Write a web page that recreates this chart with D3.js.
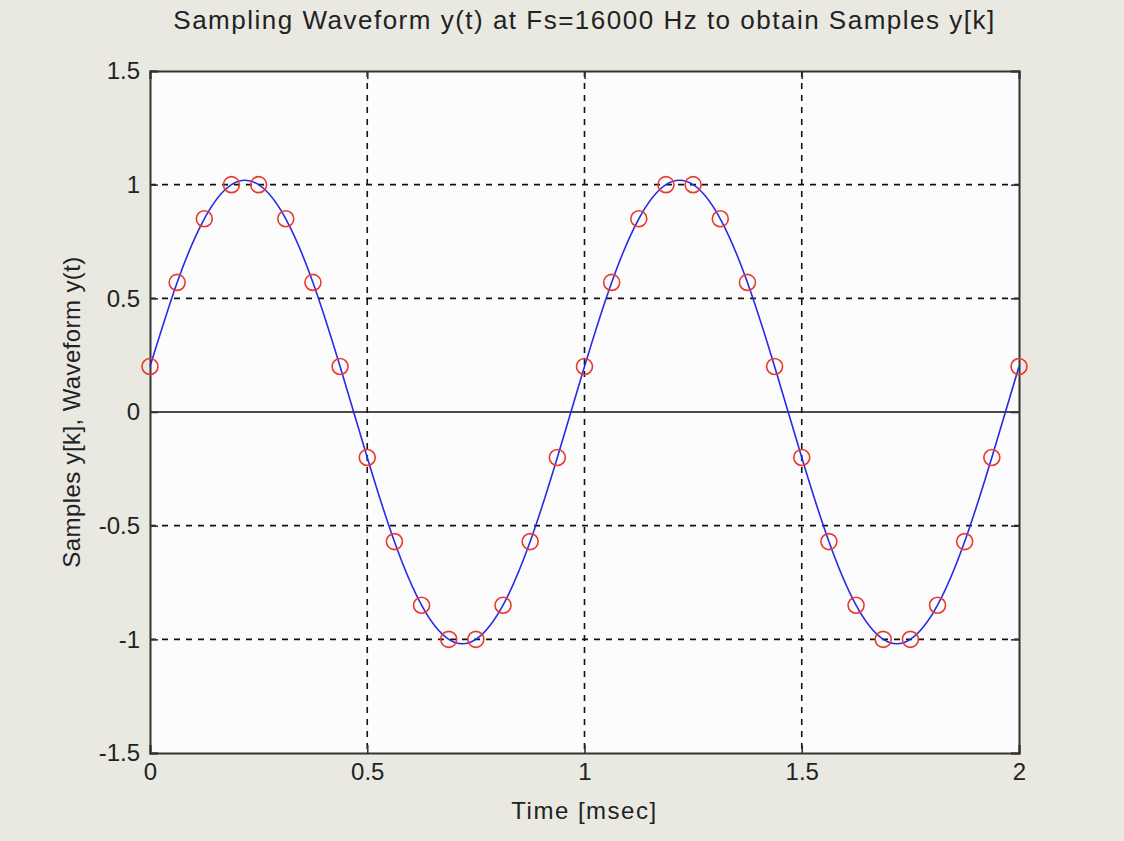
<!DOCTYPE html>
<html>
<head>
<meta charset="utf-8">
<script src="https://cdn.jsdelivr.net/npm/d3@7"></script>
<style>
  body { margin: 0; background: #e9e8e1; }
  text { font-family: "Liberation Sans", Arial, sans-serif; fill: #222; }
</style>
</head>
<body>
<div id="chart"></div>
<script>
// chart size
var svgWidth = 1124
var svgHeight = 841

var margin = { top: 71, right: 105, bottom: 88, left: 150 };
var chartWidth = svgWidth - margin.left - margin.right;
var chartHeight = svgHeight - margin.top - margin.bottom;

// data: samples y[k] at Fs = 16000 Hz (t in msec)
var sampleTimes = d3.range(0, 33).map(k => k / 16);
var sampleValues = [
  0.2, 0.57, 0.85, 1.0, 1.0, 0.85, 0.57, 0.2,
  -0.2, -0.57, -0.85, -1.0, -1.0, -0.85, -0.57, -0.2,
  0.2, 0.57, 0.85, 1.0, 1.0, 0.85, 0.57, 0.2,
  -0.2, -0.57, -0.85, -1.0, -1.0, -0.85, -0.57, -0.2,
  0.2
];
var xTicks = [0, 0.5, 1, 1.5, 2];
var yTicks = [-1.5, -1, -0.5, 0, 0.5, 1, 1.5];

var samples = sampleTimes.map((t, i) => ({ t: t, y: sampleValues[i] }));

var svg = d3.select("#chart")
  .append("svg")
  .attr("width", svgWidth)
  .attr("height", svgHeight);

var chartGroup = svg.append("g")
  .attr("transform", `translate(${margin.left}, ${margin.top})`);

// scales
var x = d3.scaleLinear().domain([0, 2]).range([0, chartWidth]);
var y = d3.scaleLinear().domain([-1.5, 1.5]).range([chartHeight, 0]);

// white plot area
chartGroup.append("rect")
  .attr("width", chartWidth)
  .attr("height", chartHeight)
  .attr("fill", "#fcfcfc");

// dashed grid
chartGroup.append("g").selectAll("line")
  .data(xTicks.slice(1, -1))
  .enter().append("line")
  .attr("x1", d => x(d)).attr("x2", d => x(d))
  .attr("y1", 0).attr("y2", chartHeight)
  .attr("stroke", "#111").attr("stroke-width", 1.6)
  .attr("stroke-dasharray", "6,6");

chartGroup.append("g").selectAll("line")
  .data(yTicks.filter(d => d !== 0 && Math.abs(d) !== 1.5))
  .enter().append("line")
  .attr("x1", 0).attr("x2", chartWidth)
  .attr("y1", d => y(d)).attr("y2", d => y(d))
  .attr("stroke", "#111").attr("stroke-width", 1.6)
  .attr("stroke-dasharray", "6,6");

// zero line
chartGroup.append("line")
  .attr("x1", 0).attr("x2", chartWidth)
  .attr("y1", y(0)).attr("y2", y(0))
  .attr("stroke", "#111").attr("stroke-width", 1.6);

// axes (ticks inside, matlab style), plain hyphen minus
var fmt = d => String(d);
var bottomAxis = d3.axisBottom(x).tickValues(xTicks).tickSize(-8).tickPadding(10).tickFormat(fmt);
var leftAxis = d3.axisLeft(y).tickValues(yTicks).tickSize(-8).tickPadding(10).tickFormat(fmt);
var topAxis = d3.axisTop(x).tickValues(xTicks).tickSize(-8).tickFormat("");
var rightAxis = d3.axisRight(y).tickValues(yTicks).tickSize(-8).tickFormat("");

[
  chartGroup.append("g").attr("transform", `translate(0, ${chartHeight})`).call(bottomAxis),
  chartGroup.append("g").call(leftAxis),
  chartGroup.append("g").call(topAxis),
  chartGroup.append("g").attr("transform", `translate(${chartWidth}, 0)`).call(rightAxis)
].forEach(function(g) {
  g.selectAll("path").attr("stroke", "#333").attr("stroke-width", 2);
  g.selectAll("line").attr("stroke", "#333").attr("stroke-width", 1.6);
  g.selectAll("text").attr("font-size", 24).attr("fill", "#222")
    .attr("font-family", "Liberation Sans, Arial, sans-serif");
});

// waveform y(t)
var line = d3.line()
  .x(d => x(d.t))
  .y(d => y(d.y))
  .curve(d3.curveNatural);

chartGroup.append("path")
  .datum(samples)
  .attr("d", line)
  .attr("fill", "none")
  .attr("stroke", "#2a2ae6")
  .attr("stroke-width", 1.6);

// samples y[k]
chartGroup.selectAll("circle")
  .data(samples)
  .enter()
  .append("circle")
  .attr("cx", d => x(d.t))
  .attr("cy", d => y(d.y))
  .attr("r", 8)
  .attr("fill", "none")
  .attr("stroke", "#e8392f")
  .attr("stroke-width", 1.6);

// labels
svg.append("text")
  .attr("x", margin.left + chartWidth / 2)
  .attr("y", 29)
  .attr("text-anchor", "middle")
  .attr("font-size", 26)
  .attr("letter-spacing", 1.5)
  .text("Sampling Waveform y(t) at Fs=16000 Hz to obtain Samples y[k]");

svg.append("text")
  .attr("x", margin.left + chartWidth / 2)
  .attr("y", 819)
  .attr("text-anchor", "middle")
  .attr("font-size", 24)
  .attr("letter-spacing", 1.5)
  .text("Time [msec]");

svg.append("text")
  .attr("transform", `translate(80, ${margin.top + chartHeight / 2}) rotate(-90)`)
  .attr("text-anchor", "middle")
  .attr("font-size", 24)
  .attr("letter-spacing", 0.4)
  .text("Samples y[k], Waveform y(t)");
</script>
</body>
</html>
